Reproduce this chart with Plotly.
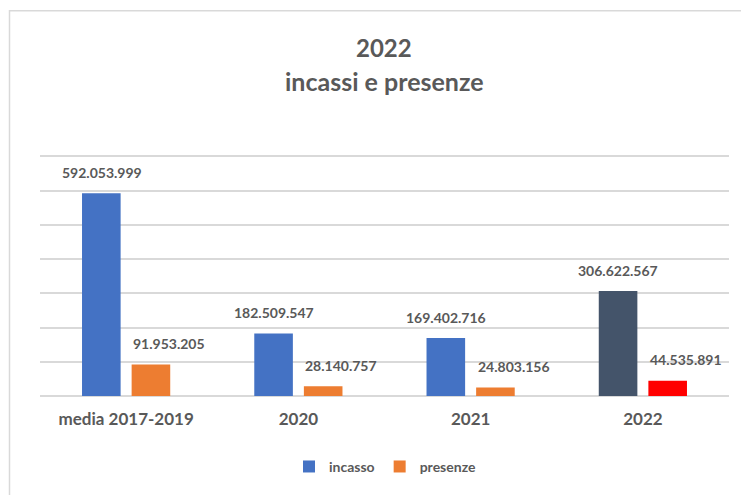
import plotly.graph_objects as go

categories = ["media 2017-2019", "2020", "2021", "2022"]
incasso = [592053999, 182509547, 169402716, 306622567]
presenze = [91953205, 28140757, 24803156, 44535891]
incasso_colors = ["#4472C4", "#4472C4", "#4472C4", "#44546A"]
presenze_colors = ["#ED7D31", "#ED7D31", "#ED7D31", "#FF0000"]
y_ticks = [0, 100e6, 200e6, 300e6, 400e6, 500e6, 600e6, 700e6]

TXT = "#595959"
FONT = "Lato"

W, H = 749, 495
OFF = 8  # default page body margin
Y_MAX = 710e6
PLOT_BOTTOM = 396 - OFF
PH_700 = 240  # pixels spanned by 0..700M
PH = PH_700 * Y_MAX / 700e6
ML, MR = 40 - OFF, 28
MB = H - PLOT_BOTTOM
MT = H - MB - PH
PW = W - ML - MR


def fmt(v):
    return f"{v:,}".replace(",", ".")


def px_to_paper_y(py):
    return (H - MB - (py - OFF)) / PH


def px_to_paper_x(px):
    return ((px - OFF) - ML) / PW


fig = go.Figure()
fig.add_trace(go.Bar(
    x=categories, y=incasso, name="incasso",
    marker=dict(color=incasso_colors, line=dict(width=0)),
))
fig.add_trace(go.Bar(
    x=categories, y=presenze, name="presenze",
    marker=dict(color=presenze_colors, line=dict(width=0)),
))

annotations = []
for i, v in enumerate(incasso):
    annotations.append(dict(x=i, y=v, xref="x", yref="y", text=fmt(v),
                            showarrow=False, yshift=21, xshift=-24.5,
                            yanchor="middle", xanchor="center",
                            font=dict(family=FONT, size=14, color=TXT, weight="bold")))
for i, v in enumerate(presenze):
    annotations.append(dict(x=i, y=v, xref="x", yref="y", text=fmt(v),
                            showarrow=False, yshift=21, xshift=43,
                            yanchor="middle", xanchor="center",
                            font=dict(family=FONT, size=14, color=TXT, weight="bold")))

annotations.append(dict(x=px_to_paper_x(384), y=px_to_paper_y(47), xref="paper", yref="paper",
                        text="2022", showarrow=False, xanchor="center", yanchor="middle",
                        font=dict(family=FONT, size=24, color=TXT, weight="bold")))
annotations.append(dict(x=px_to_paper_x(384), y=px_to_paper_y(80), xref="paper", yref="paper",
                        text="incassi e presenze", showarrow=False, xanchor="center", yanchor="middle",
                        font=dict(family=FONT, size=25, color=TXT, weight="bold")))

fig.update_layout(
    width=W, height=H,
    margin=dict(l=ML, r=MR, t=MT, b=MB, pad=0, autoexpand=False),
    paper_bgcolor="white", plot_bgcolor="white",
    barmode="group", bargap=0.424, bargroupgap=0.222,
    showlegend=True,
    legend=dict(orientation="h", x=px_to_paper_x(385), xanchor="center",
                y=px_to_paper_y(467), yanchor="middle",
                font=dict(family=FONT, size=14, color=TXT, weight="bold"),
                itemwidth=30, traceorder="normal"),
    annotations=annotations,
    shapes=[dict(type="rect", xref="paper", yref="paper",
                 x0=px_to_paper_x(9.5), x1=px_to_paper_x(800),
                 y0=px_to_paper_y(540), y1=px_to_paper_y(10),
                 line=dict(color="#D9D9D9", width=1.5), fillcolor="rgba(0,0,0,0)",
                 layer="below")],
    font=dict(family=FONT, color=TXT),
)
fig.update_yaxes(range=[0, Y_MAX], tickvals=y_ticks, showticklabels=False,
                 showgrid=True, gridcolor="#D9D9D9", gridwidth=1.5,
                 zeroline=True, zerolinecolor="#D9D9D9", zerolinewidth=1.5,
                 showline=False, fixedrange=True)
fig.update_xaxes(type="category", categoryorder="array", categoryarray=categories,
                 range=[-0.5, len(categories) - 0.5],
                 showgrid=False, showline=False, ticks="",
                 ticklabelstandoff=11,
                 tickfont=dict(family=FONT, size=17, color=TXT, weight="bold"))

fig.write_html("out.html")
